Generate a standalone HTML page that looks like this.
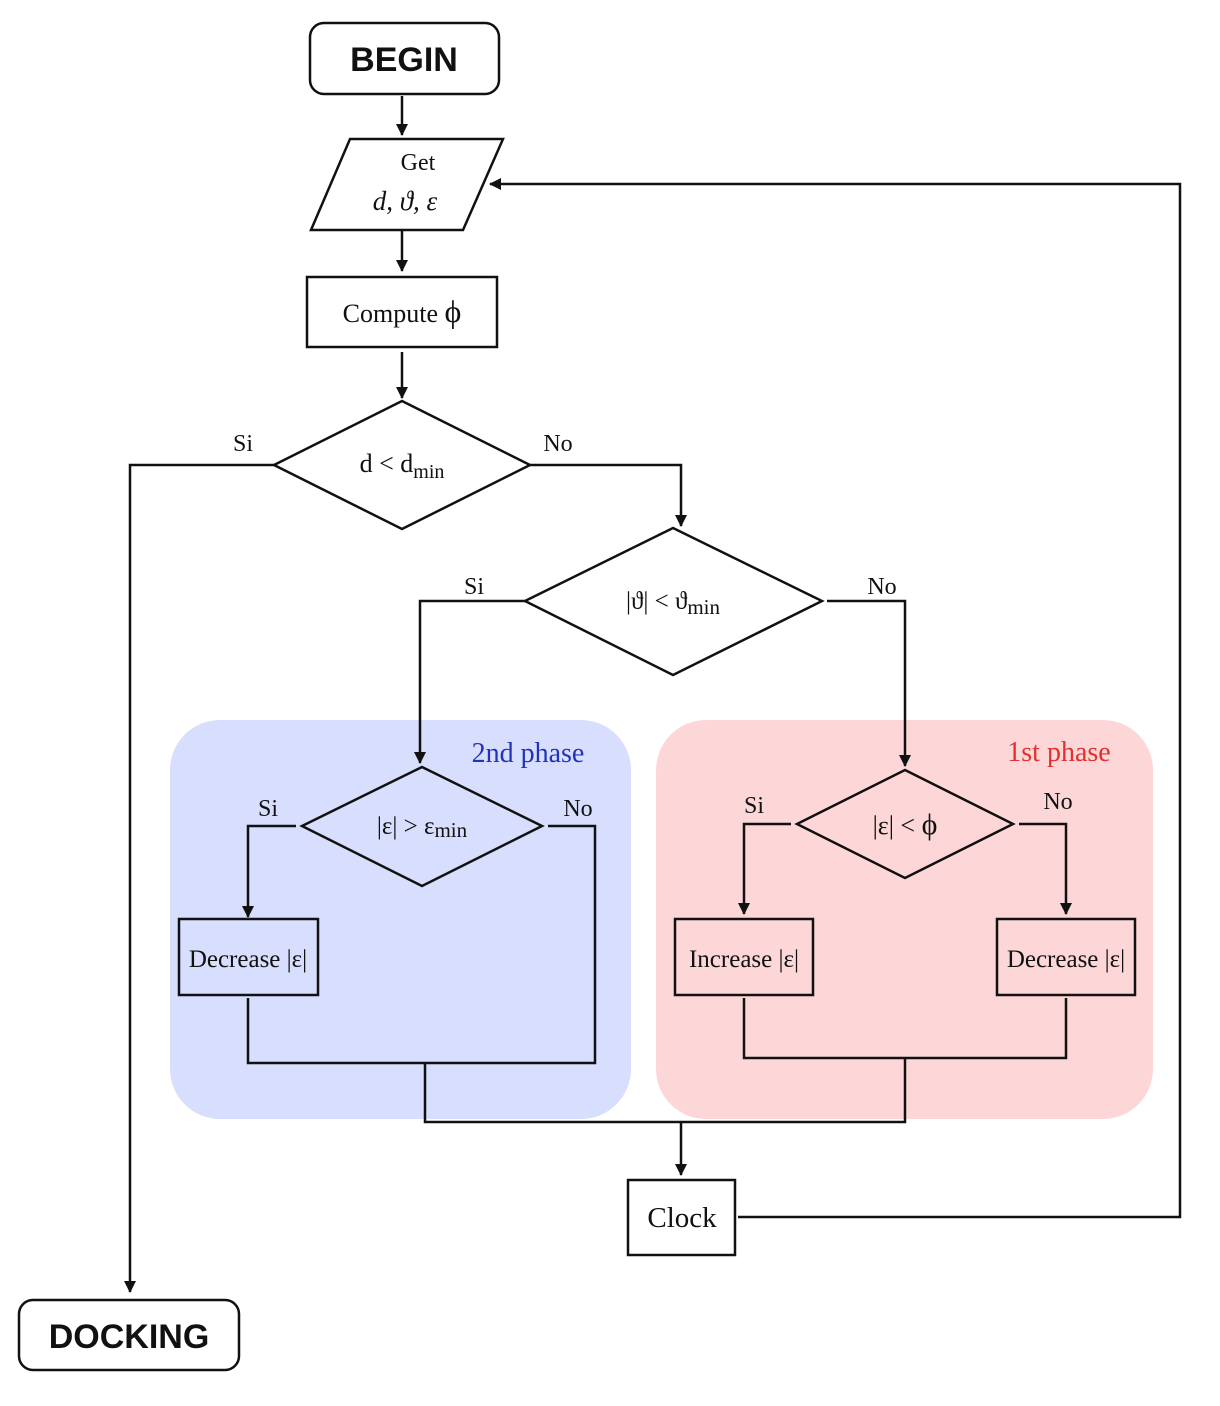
<!DOCTYPE html>
<html><head><meta charset="utf-8"><style>
html,body{margin:0;padding:0;background:#fff;}
svg{display:block;}
text{font-family:"Liberation Serif",serif;fill:#111;}
</style></head><body>
<svg width="1220" height="1406" viewBox="0 0 1220 1406" xmlns="http://www.w3.org/2000/svg">
<defs>
<marker id="a" markerWidth="12" markerHeight="12" refX="11" refY="6" orient="auto" markerUnits="userSpaceOnUse">
<path d="M0,0 L12,6 L0,12 z" fill="#111"/>
</marker>
</defs>
<rect x="0" y="0" width="1220" height="1406" fill="#fff"/>
<rect x="170" y="720" width="461" height="399" rx="50" fill="#d8defd"/>
<rect x="656" y="720" width="497" height="399" rx="50" fill="#fdd7d8"/>
<g fill="none" stroke="#111" stroke-width="2.5">
<rect x="310" y="23" width="189" height="71" rx="14"/>
<line x1="402" y1="96" x2="402" y2="135" marker-end="url(#a)"/>
<polygon points="350,139 503,139 463,230 311,230"/>
<line x1="402" y1="231" x2="402" y2="271" marker-end="url(#a)"/>
<rect x="307" y="277" width="190" height="70"/>
<line x1="402" y1="352" x2="402" y2="398" marker-end="url(#a)"/>
<polygon points="402,401 530,465 402,529 274,465"/>
<polyline points="274,465 130,465 130,1292" marker-end="url(#a)"/>
<polyline points="530,465 681,465 681,526" marker-end="url(#a)"/>
<polygon points="673,528 822,601 673,675 525,601"/>
<polyline points="525,601 420,601 420,763" marker-end="url(#a)"/>
<polyline points="827,601 905,601 905,766" marker-end="url(#a)"/>
<polygon points="422,767 542,826 422,886 302,826"/>
<polyline points="296,826 248,826 248,917" marker-end="url(#a)"/>
<polyline points="548,826 595,826 595,1063 248,1063 248,998"/>
<rect x="179" y="919" width="139" height="76"/>
<polygon points="905,770 1013,824 905,878 797,824"/>
<polyline points="791,824 744,824 744,914" marker-end="url(#a)"/>
<polyline points="1019,824 1066,824 1066,914" marker-end="url(#a)"/>
<rect x="675" y="919" width="138" height="76"/>
<rect x="997" y="919" width="138" height="76"/>
<polyline points="744,998 744,1058 1066,1058 1066,998"/>
<polyline points="425,1063 425,1122 905,1122 905,1058"/>
<line x1="681" y1="1122" x2="681" y2="1175" marker-end="url(#a)"/>
<rect x="628" y="1180" width="107" height="75"/>
<polyline points="738,1217 1180,1217 1180,184 490,184" marker-end="url(#a)"/>
<rect x="19" y="1300" width="220" height="70" rx="14"/>
</g>
<text x="404" y="71" text-anchor="middle" style="font-family:'Liberation Sans',sans-serif;font-weight:bold;font-size:34px">BEGIN</text>
<text x="129" y="1348" text-anchor="middle" style="font-family:'Liberation Sans',sans-serif;font-weight:bold;font-size:34px">DOCKING</text>
<text x="418" y="170" text-anchor="middle" font-size="24">Get</text>
<text x="405" y="210" text-anchor="middle" font-size="27" font-style="italic">d, ϑ, ε</text>
<text x="402" y="322" text-anchor="middle" font-size="26">Compute <tspan font-size="32">ϕ</tspan></text>
<text x="402" y="472" text-anchor="middle" font-size="26">d &lt; d<tspan font-size="20" dy="6">min</tspan></text>
<text x="243" y="451" text-anchor="middle" font-size="24">Si</text>
<text x="558" y="451" text-anchor="middle" font-size="24">No</text>
<text x="673" y="609" text-anchor="middle" font-size="25">|ϑ| &lt; ϑ<tspan font-size="21" dy="5">min</tspan></text>
<text x="474" y="594" text-anchor="middle" font-size="24">Si</text>
<text x="882" y="594" text-anchor="middle" font-size="24">No</text>
<text x="528" y="762" text-anchor="middle" font-size="28" style="fill:#2233bb">2nd phase</text>
<text x="1059" y="761" text-anchor="middle" font-size="28" style="fill:#e03030">1st phase</text>
<text x="422" y="834" text-anchor="middle" font-size="25">|ε| &gt; ε<tspan font-size="21" dy="3">min</tspan></text>
<text x="268" y="816" text-anchor="middle" font-size="24">Si</text>
<text x="578" y="816" text-anchor="middle" font-size="24">No</text>
<text x="248" y="967" text-anchor="middle" font-size="25">Decrease |ε|</text>
<text x="905" y="834" text-anchor="middle" font-size="26">|ε| &lt; <tspan font-size="30">ϕ</tspan></text>
<text x="754" y="813" text-anchor="middle" font-size="24">Si</text>
<text x="1058" y="809" text-anchor="middle" font-size="24">No</text>
<text x="744" y="967" text-anchor="middle" font-size="25">Increase |ε|</text>
<text x="1066" y="967" text-anchor="middle" font-size="25">Decrease |ε|</text>
<text x="682" y="1227" text-anchor="middle" font-size="29">Clock</text>
</svg>
</body></html>
